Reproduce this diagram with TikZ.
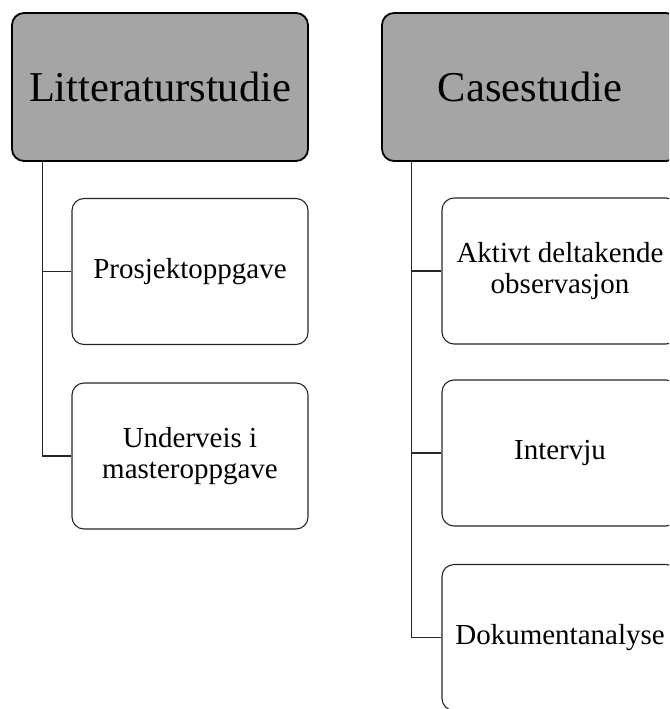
\documentclass[tikz,border=0pt]{standalone}
\usepackage{fontspec}
\setmainfont{Liberation Serif}
\definecolor{headgray}{HTML}{A5A5A5}
\begin{document}
\begin{tikzpicture}[x=1pt,y=-1pt,
  headbox/.style={draw=black, line width=1.8pt, fill=headgray, rounded corners=12pt,
    minimum width=296pt, minimum height=148pt, inner sep=0pt,
    font=\fontsize{42.5}{48}\selectfont},
  itembox/.style={draw=black!85, line width=1.1pt, fill=white, rounded corners=12pt,
    minimum width=236pt, minimum height=146pt, inner sep=0pt, align=center,
    font=\fontsize{29}{31}\selectfont},
  link/.style={draw=black!85, line width=1.1pt}]
\useasboundingbox (0,0) rectangle (669,709);
\clip (0,0) rectangle (669,709);

% left column
\node[headbox] (lit) at (160,87) {Litteraturstudie};
\node[itembox] (p1) at (190,271.5) {Prosjektoppgave};
\node[itembox] (p2) at (190,456) {Underveis i\\masteroppgave};

% right column
\node[headbox] (case) at (530,87) {Casestudie};
\node[itembox] (c1) at (560,271) {Aktivt deltakende\\observasjon};
\node[itembox] (c2) at (560,453) {Intervju};
\node[itembox] (c3) at (560,637.5) {Dokumentanalyse};

% tree connectors
\draw[link] ([xshift=31pt]lit.south west) |- (p1.west);
\draw[link] ([xshift=31pt]lit.south west) |- (p2.west);
\draw[link] ([xshift=30pt]case.south west) |- (c1.west);
\draw[link] ([xshift=30pt]case.south west) |- (c2.west);
\draw[link] ([xshift=30pt]case.south west) |- (c3.west);
\end{tikzpicture}
\end{document}
